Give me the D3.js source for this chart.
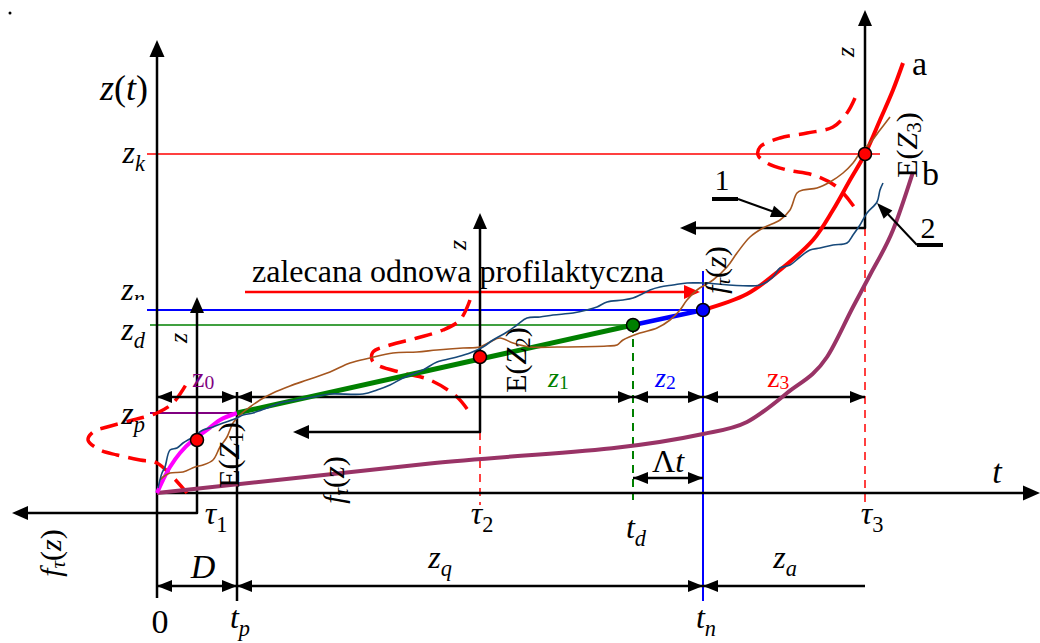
<!DOCTYPE html>
<html>
<head>
<meta charset="utf-8">
<script src="https://cdn.jsdelivr.net/npm/d3@7"></script>
<style>
  body { margin: 0; background: #fff; }
  svg text { font-family: "Liberation Serif", "Times New Roman", "DejaVu Serif", serif; }
</style>
</head>
<body>
<script>
// time instants (t units) and levels (z units)
var tau1 = 4.0, tp = 8.0, tau2 = 32.3, td = 47.6, tn = 54.6, tau3 = 70.8, tEnd = 88.3;
var zk = 33.9, zn = 18.3, zd = 16.8, zp = 8.0, zTop = 45.3;
var zDimA = 9.6, zDimB = -9.3, zDimT = 1.5, zBottom = -10.5;

// deterministic degradation pieces
var magentaCurve = [[0,0],[0.6,1.3],[1.3,2.6],[2.3,4.0],[3.6,5.3],[5.0,6.3],[6.3,7.3],[8.0,8.0]];
var greenLine = [[8.0,8.0],[47.6,16.8]];
var blueLine = [[47.6,16.8],[54.6,18.3]];
var curveA = [[54.6,18.3],[59.0,19.9],[62.3,22.3],[65.6,25.3],[67.6,28.3],[69.3,31.3],[70.8,33.9],[72.3,37.3],[73.6,40.3],[74.6,43.0]];
var curveB = [[0,0],[27.3,2.95],[54.6,5.9],[59.0,7.1],[63.0,10.0],[67.0,13.6],[69.6,18.6],[71.3,21.8],[73.6,26.3],[75.6,32.1]];

// two realisations of the random process
var path1 = [[0.3,1.3],[0.6,1.6],[1.3,2.0],[2.6,2.1],[3.8,2.6],[4.6,2.8],[5.6,3.3],[6.3,4.6],[7.0,5.6],[7.6,7.0],[8.3,7.8],[9.3,8.6],[10.3,9.3],[11.6,10.0],[13.3,10.7],[15.0,11.3],[17.3,12.1],[19.3,13.0],[21.3,13.5],[23.6,14.0],[26.0,14.1],[28.0,14.3],[30.6,14.5],[32.3,14.6],[33.3,15.1],[34.3,15.5],[35.6,15.0],[37.3,14.6],[40.0,14.6],[45.0,14.7],[46.0,14.8],[46.6,15.3],[48.3,16.0],[50.0,16.5],[51.3,17.3],[52.3,18.3],[53.0,19.3],[54.0,20.3],[55.6,21.3],[57.0,22.6],[58.0,24.0],[59.3,25.6],[60.6,26.5],[62.3,27.3],[63.3,28.3],[64.0,30.0],[64.6,30.3],[66.0,30.5],[67.3,31.1],[68.6,32.0],[69.6,33.0],[70.3,34.0],[71.3,35.0],[72.3,36.3],[73.3,37.6]];
var path2 = [[0.1,0.5],[0.5,2.0],[0.8,2.6],[1.3,4.3],[2.0,4.5],[2.6,5.0],[3.6,5.6],[4.6,6.3],[5.6,6.6],[6.6,7.0],[8.0,7.5],[8.6,7.8],[9.6,8.0],[11.0,8.5],[12.3,9.0],[14.0,9.3],[15.6,9.6],[17.3,9.9],[20.6,9.9],[22.0,10.3],[23.3,10.8],[24.6,11.5],[26.6,12.3],[28.0,13.1],[30.0,13.6],[31.3,14.0],[32.6,14.6],[33.6,15.3],[35.0,16.1],[36.0,16.8],[37.0,17.5],[38.3,17.6],[39.6,17.8],[41.6,18.0],[43.0,18.3],[44.0,18.6],[45.0,19.1],[46.6,19.3],[47.6,19.5],[48.3,19.8],[49.3,20.3],[50.3,20.6],[51.6,20.8],[53.0,21.0],[54.6,21.0],[60.3,20.8],[61.6,21.6],[62.3,22.5],[63.3,22.8],[64.3,23.6],[65.3,24.3],[66.3,24.5],[67.6,24.8],[69.0,25.0],[69.6,25.8],[70.3,26.8],[71.0,28.0],[72.0,29.1],[72.3,30.3],[72.6,31.0]];

// density curves f_tau(z) at tau1, tau2, tau3
var density1 = [[3.0,0],[0,3.0],[-1.7,3.3],[-4.0,3.8],[-5.7,4.3],[-6.9,5.3],[-6.4,6.1],[-5.0,6.6],[-2.4,7.3],[0,8.0],[1.6,9.0],[3.0,11.0]];
var density2 = [[31.3,19.3],[30.3,17.3],[28.6,16.3],[26.0,15.5],[23.3,14.8],[21.6,14.1],[21.5,13.3],[22.0,12.8],[24.6,12.0],[27.3,11.3],[30.0,9.6],[31.3,8.0]];
var density3 = [[69.8,39.5],[69.0,38.0],[67.6,36.6],[65.0,36.0],[62.3,35.5],[60.3,34.6],[60.1,33.8],[61.0,33.0],[63.0,32.3],[65.6,31.8],[68.0,30.6],[69.8,28.5]];

// expected values E(Z) and the transition points
var dots = [[tau1,5.3],[tau2,13.6],[td,zd],[tn,zn],[tau3,zk]];
var dotColors = ["#ff0000","#ff0000","#008000","#0000ff","#ff0000"];

var svg = d3.select("body").append("svg")
    .attr("width", 1040)
    .attr("height", 643);

var x = d3.scaleLinear().domain([0, tEnd]).range([157, 1040]);
var y = d3.scaleLinear().domain([0, zTop]).range([493, 40]);

function draw(pts, color, w, dash, curve) {
  var ln = d3.line().x(function(d){ return x(d[0]); }).y(function(d){ return y(d[1]); })
    .curve(curve || d3.curveLinear);
  return svg.append("path").attr("d", ln(pts))
    .attr("fill", "none").attr("stroke", color).attr("stroke-width", w)
    .attr("stroke-dasharray", dash || null)
    .attr("stroke-linejoin", "round");
}

// filled arrow head with its tip at p (data units), pointing away from q
function head(p, q, color, len, wid) {
  var px = x(p[0]), py = y(p[1]), qx = x(q[0]), qy = y(q[1]);
  var a = Math.atan2(py - qy, px - qx);
  var bx = px - len * Math.cos(a), by = py - len * Math.sin(a);
  var nx = -Math.sin(a) * wid / 2, ny = Math.cos(a) * wid / 2;
  svg.append("polygon")
    .attr("points", [[px,py],[bx+nx,by+ny],[bx-nx,by-ny]].map(function(d){ return d.join(","); }).join(" "))
    .attr("fill", color || "black");
}

function dim(t1, t2, z, h1, h2) {
  draw([[t1,z],[t2,z]], "black", 2.5);
  if (h1) head([t1,z],[t2,z], "black", 15, 12);
  if (h2) head([t2,z],[t1,z], "black", 15, 12);
}

// text made of parts: {s, i: italic, sub: subscript}
function label(t, z, parts, size, opts) {
  opts = opts || {};
  var holder = svg.append("g");
  if (opts.clip) holder.attr("clip-path", opts.clip);
  var g = holder.append("g")
    .attr("transform", "translate(" + x(t) + "," + y(z) + ")" + (opts.rot ? " rotate(" + opts.rot + ")" : ""));
  var txt = g.append("text")
    .style("font-size", size + "px")
    .attr("fill", opts.color || "black")
    .attr("text-anchor", opts.anchor || "start")
    .attr("dominant-baseline", opts.rot ? "central" : null);
  var shift = 0, drop = opts.drop != null ? opts.drop : 0.25;
  parts.forEach(function(p) {
    var s = txt.append("tspan").text(p.s);
    if (p.i) s.style("font-style", "italic");
    var want = p.sub ? size * drop : 0;
    if (want !== shift) s.attr("dy", want - shift);
    shift = want;
    if (p.sub) s.style("font-size", (size * 0.7) + "px");
  });
  return txt;
}

// level lines
draw([[-1.0,zk],[72.3,zk]], "#ff0000", 1.5);
draw([[-1.0,zn],[tn,zn]], "#0000ff", 2);
draw([[-0.7,zd],[td,zd]], "#008000", 1.3);
draw([[-0.7,zp],[tp,zp]], "#800080", 2);

// recommended preventive renewal arrow
draw([[8.8,20.1],[53.0,20.1]], "#ff0000", 2.5);
head([54.3,20.1],[8.8,20.1], "#ff0000", 16, 14);

// verticals
draw([[tau2,6.1],[tau2,-1.2]], "#ff0000", 1.5, "8,6");
draw([[tau3,26.5],[tau3,-1.2]], "#ff0000", 1.5, "8,6");
draw([[td,zd],[td,-0.7]], "#008000", 2, "8,6");
draw([[tn,22.2],[tn,zBottom - 0.3]], "#0000ff", 2);
draw([[tp,10.1],[tp,zBottom - 0.3]], "black", 2.5);

// main axes
draw([[0,zBottom],[0,zTop - 1]], "black", 2.5);
head([0,zTop],[0,0], "black", 17, 15);
draw([[0,0],[tEnd - 1,0]], "black", 2.5);
head([tEnd,0],[0,0], "black", 17, 15);

// density axes
var dAxes = [
  [[-14.5,-2.0],[tau1,-2.0],[tau1,19.6]],
  [[13.6,6.1],[tau2,6.1],[tau2,28.0]],
  [[52.3,26.5],[tau3,26.5],[tau3,48.3]]
];
dAxes.forEach(function(a) {
  draw([[a[0][0] + 1,a[0][1]], a[1], [a[2][0], a[2][1] - 1]], "black", 2.5);
  head(a[0], a[1], "black", 16, 14);
  head(a[2], a[1], "black", 16, 14);
});

// density curves
[density1, density2, density3].forEach(function(d) {
  draw(d, "#ff0000", 3.5, "18,9", d3.curveCatmullRom);
});

// dimension rows
dim(0, tp, zDimA, true, true);
dim(tp, td, zDimA, true, true);
dim(td, tn, zDimA, true, true);
dim(tn, tau3, zDimA, true, true);
dim(0, tp, zDimB, true, true);
dim(tp, tn, zDimB, true, true);
dim(tn, tau3, zDimB, true, false);
dim(td, tn, zDimT, true, true);

// model curves
draw(curveB, "#993366", 4, null, d3.curveMonotoneX);
draw(magentaCurve, "#ff00ff", 4, null, d3.curveCatmullRom);
draw(greenLine, "#008000", 5);
draw(blueLine, "#0000ff", 4.5);
draw(curveA, "#ff0000", 4, null, d3.curveCatmullRom);

// realisations
draw(path1, "#a5561f", 1.6, null, d3.curveCatmullRom);
draw(path2, "#17497a", 1.6, null, d3.curveCatmullRom);

// pointer arrows 1 and 2
draw([[55.5,29.4],[58.1,29.4]], "black", 4);
draw([[58.1,29.4],[62.0,28.0]], "black", 2);
head([63.0,27.6],[58.1,29.4], "black", 16, 12);
draw([[76.0,24.8],[78.6,24.8]], "black", 4);
draw([[76.0,24.8],[72.8,28.2]], "black", 2);
head([72.0,29.0],[76.0,24.8], "black", 16, 12);

// dots
svg.selectAll("circle.pt").data(dots).enter().append("circle")
  .attr("class", "pt")
  .attr("cx", function(d){ return x(d[0]); })
  .attr("cy", function(d){ return y(d[1]); })
  .attr("r", 6.5)
  .attr("fill", function(d, i){ return dotColors[i]; })
  .attr("stroke", "black").attr("stroke-width", 1.5);

// stray dot top left
svg.append("circle").attr("cx", 10).attr("cy", 13).attr("r", 1.5).attr("fill", "black");

// labels
var S = 32;
label(-0.9, 39.3, [{s:"z",i:1},{s:"("},{s:"t",i:1},{s:")"}], 36, {anchor:"end"});
label(-1.2, 33.0, [{s:"z",i:1},{s:"k",i:1,sub:1}], S, {anchor:"end"});
svg.append("clipPath").attr("id", "cutn").append("rect").attr("x", 100).attr("y", 280).attr("width", 60).attr("height", 20);
label(-1.2, 19.3, [{s:"z",i:1},{s:"n",i:1,sub:1}], S, {anchor:"end", clip:"url(#cutn)", drop:0.18});
label(-1.2, 15.3, [{s:"z",i:1},{s:"d",i:1,sub:1}], S, {anchor:"end"});
label(-1.2, 6.9, [{s:"z",i:1},{s:"p",i:1,sub:1}], S, {anchor:"end"});

label(3.5, 10.6, [{s:"z"},{s:"0",sub:1}], 28, {color:"#800080", drop:0.08});
label(39.1, 10.6, [{s:"z",i:1},{s:"1",sub:1}], 28, {color:"#008000", drop:0.08});
label(49.8, 10.6, [{s:"z",i:1},{s:"2",sub:1}], 28, {color:"#0000ff", drop:0.08});
label(61.0, 10.6, [{s:"z"},{s:"3",sub:1}], 28, {color:"#ff0000", drop:0.08});

label(4.6, -8.5, [{s:"D",i:1}], 34, {anchor:"middle"});
label(28.3, -7.5, [{s:"z",i:1},{s:"q",i:1,sub:1}], S, {anchor:"middle"});
label(62.8, -7.5, [{s:"z",i:1},{s:"a",i:1,sub:1}], S, {anchor:"middle"});
label(0.3, -14.0, [{s:"0"}], 34, {anchor:"middle"});
label(8.3, -13.5, [{s:"t",i:1},{s:"p",i:1,sub:1}], S, {anchor:"middle"});
label(54.9, -13.5, [{s:"t",i:1},{s:"n",i:1,sub:1}], S, {anchor:"middle"});
label(5.9, -3.1, [{s:"τ",i:1},{s:"1",sub:1}], S, {anchor:"middle"});
label(32.5, -3.1, [{s:"τ",i:1},{s:"2",sub:1}], S, {anchor:"middle"});
label(47.9, -4.5, [{s:"t",i:1},{s:"d",i:1,sub:1}], S, {anchor:"middle"});
label(71.5, -3.1, [{s:"τ",i:1},{s:"3",sub:1}], S, {anchor:"middle"});
label(51.1, 2.1, [{s:"Λ"},{s:"t",i:1}], S, {anchor:"middle"});
label(84.0, 1.0, [{s:"t",i:1}], 34, {anchor:"middle"});
label(75.5, 41.8, [{s:"a"}], 34);
label(76.5, 30.8, [{s:"b"}], 34);
label(56.5, 30.3, [{s:"1"}], 30, {anchor:"middle"});
label(77.1, 25.5, [{s:"2"}], 30, {anchor:"middle"});
label(9.5, 21.1, [{s:"zalecana odnowa profilaktyczna"}], 32);

// rotated labels
[[2.1,15.5],[30.0,24.8],[68.8,44.1]].forEach(function(p) {
  label(p[0], p[1], [{s:"z",i:1}], 26, {anchor:"middle", rot:-90});
});
[[7.1,3.8,"1"],[35.8,13.3,"2"],[74.9,34.8,"3"]].forEach(function(p) {
  label(p[0], p[1], [{s:"E("},{s:"Z",i:1},{s:p[2],sub:1},{s:")"}], 30, {anchor:"middle", rot:-90});
});
[[-10.7,-6.0],[17.6,1.3],[55.8,22.3]].forEach(function(p) {
  label(p[0], p[1], [{s:"f",i:1},{s:"τ",i:1,sub:1},{s:"("},{s:"z",i:1},{s:")"}], 30, {anchor:"middle", rot:-90});
});
</script>
</body>
</html>
